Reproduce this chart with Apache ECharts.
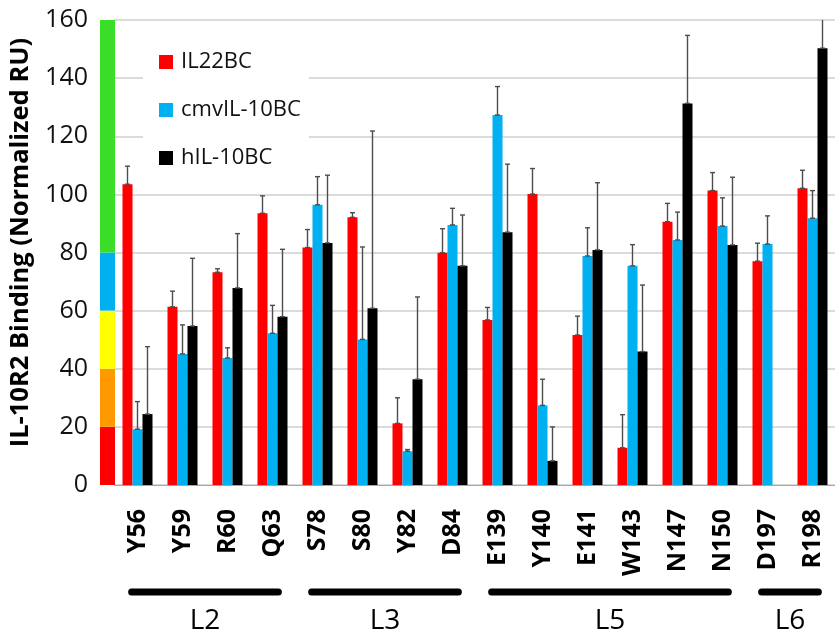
<!DOCTYPE html>
<html>
<head>
<meta charset="utf-8">
<script src="https://cdn.jsdelivr.net/npm/echarts@6/dist/echarts.min.js"></script>
<style>
  html, body { margin: 0; padding: 0; background: #fff; }
  #chart { width: 835px; height: 638px; }
</style>
</head>
<body>
<div id="chart"></div>
<script>
// residues on the x axis
const categories = ['Y56', 'Y59', 'R60', 'Q63', 'S78', 'S80', 'Y82', 'D84',
  'E139', 'Y140', 'E141', 'W143', 'N147', 'N150', 'D197', 'R198']

const seriesNames = ['IL22BC', 'cmvIL-10BC', 'hIL-10BC']
const il22 = [103.5, 61.3, 73.2, 93.5, 81.7, 92.1, 21.2, 79.9, 56.8, 100.1, 51.6, 12.8, 90.6, 101.3, 77.0, 102.1]
const il22Err = [6.2, 5.4, 1.2, 6.0, 6.2, 1.6, 8.8, 8.3, 4.3, 8.8, 6.5, 11.4, 6.3, 6.2, 6.2, 6.2]
const cmv = [19.2, 45.1, 43.7, 52.2, 96.4, 50.1, 11.6, 89.5, 127.3, 27.4, 78.8, 75.4, 84.3, 89.1, 82.9, 91.8]
const cmvErr = [9.5, 10.0, 3.5, 9.6, 9.7, 31.8, 0.6, 5.7, 9.8, 9.0, 9.7, 7.3, 9.6, 9.7, 9.7, 9.5]
const hil = [24.4, 54.7, 67.8, 57.9, 83.3, 60.8, 36.4, 75.4, 87.0, 8.3, 80.9, 45.9, 131.3, 82.6, null, 150.3]
const hilErr = [23.2, 23.3, 18.7, 23.2, 23.3, 61.0, 28.3, 17.5, 23.4, 11.7, 23.1, 22.9, 23.4, 23.3, null, 23.0]

// loop groups (category index ranges)
const groupNames = ['L2', 'L3', 'L5', 'L6']
const groupStart = [0, 4, 8, 14]
const groupEnd = [3, 7, 13, 15]

// colour scale strip beside the y axis
const stripBands = [20, 20, 20, 20, 80]
const stripColors = ['#ff0000', '#ff9900', '#ffff00', '#00b0f0', '#3ade26']

const colors = ['#ff0000', '#00b0f0', '#000000']
const FONT = '"Open Sans", sans-serif'
const BAR_W = 10

const chart = echarts.init(document.getElementById('chart'))

const values = [il22, cmv, hil]
const errs = [il22Err, cmvErr, hilErr]

function errorSeries(k) {
  const data = []
  values[k].forEach((v, i) => {
    if (v == null) return
    data.push([i, v, v + errs[k][i]])
  })
  return {
    type: 'custom',
    name: seriesNames[k] + ' err',
    xAxisIndex: 0,
    yAxisIndex: 0,
    z: 5,
    clip: true,
    data: data,
    renderItem: function (params, api) {
      const c = api.coord([api.value(0), api.value(1)])
      const t = api.coord([api.value(0), api.value(2)])
      const x = c[0] + (k - 1) * BAR_W
      const st = { stroke: '#4d4d4d', lineWidth: 1.4 }
      return {
        type: 'group',
        children: [
          { type: 'line', shape: { x1: x, y1: c[1], x2: x, y2: t[1] }, style: st },
          { type: 'line', shape: { x1: x - 2.5, y1: t[1], x2: x + 2.5, y2: t[1] }, style: st },
          { type: 'line', shape: { x1: x - 2.5, y1: c[1], x2: x + 2.5, y2: c[1] }, style: st }
        ]
      }
    }
  }
}

const barSeries = seriesNames.map((name, k) => ({
  type: 'bar',
  name: name,
  xAxisIndex: 0,
  yAxisIndex: 0,
  data: values[k],
  barWidth: BAR_W,
  barGap: '0%',
  itemStyle: { color: colors[k] }
}))

const stripSeries = stripBands.map((b, i) => ({
  type: 'bar',
  name: 'strip' + i,
  xAxisIndex: 1,
  yAxisIndex: 1,
  stack: 'strip',
  barWidth: '100%',
  data: [b],
  itemStyle: { color: stripColors[i] }
}))

const groupSeries = {
  type: 'custom',
  name: 'groups',
  xAxisIndex: 0,
  yAxisIndex: 0,
  clip: false,
  silent: true,
  data: groupStart.map((s, i) => [s, 0, groupEnd[i]]),
  renderItem: function (params, api) {
    const band = api.size([1, 0])[0]
    const a = api.coord([api.value(0), 0])
    const b = api.coord([api.value(2), 0])
    const x1 = a[0] - band * 0.13
    const x2 = b[0] + band * 0.13
    const y = a[1] + 107
    return {
      type: 'group',
      children: [
        {
          type: 'line',
          shape: { x1: x1, y1: y, x2: x2, y2: y },
          style: { stroke: '#000', lineWidth: 7, lineCap: 'round' }
        },
        {
          type: 'text',
          style: {
            text: groupNames[params.dataIndex],
            x: (x1 + x2) / 2,
            y: y + 29,
            align: 'center',
            verticalAlign: 'middle',
            fill: '#000',
            fontSize: 28,
            fontFamily: FONT
          }
        }
      ]
    }
  }
}

const option = {
  animation: false,
  backgroundColor: '#fff',
  grid: [
    { left: 115, right: -5, top: 20, bottom: 153 },
    { left: 100, width: 15, top: 20, bottom: 153 }
  ],
  legend: {
    data: seriesNames,
    orient: 'vertical',
    left: 143,
    top: 39,
    padding: [12, 8, 12, 16],
    backgroundColor: '#fff',
    itemWidth: 14,
    itemHeight: 14,
    itemGap: 26,
    icon: 'rect',
    textStyle: {
      fontFamily: FONT,
      fontSize: 22,
      lineHeight: 22,
      color: '#111',
      padding: [0, 0, 0, 3]
    }
  },
  xAxis: [
    {
      type: 'category',
      gridIndex: 0,
      data: categories,
      axisLine: { lineStyle: { color: '#a6a6a6', width: 1 } },
      axisTick: { length: 9, lineStyle: { color: '#a6a6a6' } },
      axisLabel: {
        interval: 0,
        rotate: 90,
        margin: 24,
        fontFamily: FONT,
        fontWeight: 'bold',
        fontSize: 25,
        color: '#000'
      }
    },
    {
      type: 'category',
      gridIndex: 1,
      data: ['strip'],
      show: false
    }
  ],
  yAxis: [
    {
      type: 'value',
      gridIndex: 0,
      min: 0,
      max: 160,
      interval: 20,
      axisLine: { show: false },
      axisTick: { show: false },
      splitLine: { lineStyle: { color: '#cfcfcf', width: 1.5 } },
      axisLabel: {
        margin: 27,
        fontFamily: FONT,
        fontSize: 25,
        color: '#111'
      },
      name: '\u00a0\u00a0\u00a0IL-10R2 Binding (Normalized RU)',
      nameLocation: 'middle',
      nameGap: 73,
      nameRotate: 90,
      nameTextStyle: {
        fontFamily: FONT,
        fontWeight: 'bold',
        fontSize: 25.5,
        color: '#000'
      }
    },
    {
      type: 'value',
      gridIndex: 1,
      min: 0,
      max: 160,
      show: false
    }
  ],
  series: [
    ...barSeries,
    ...[0, 1, 2].map(errorSeries),
    ...stripSeries,
    groupSeries
  ]
}

chart.setOption(option)
</script>
</body>
</html>
